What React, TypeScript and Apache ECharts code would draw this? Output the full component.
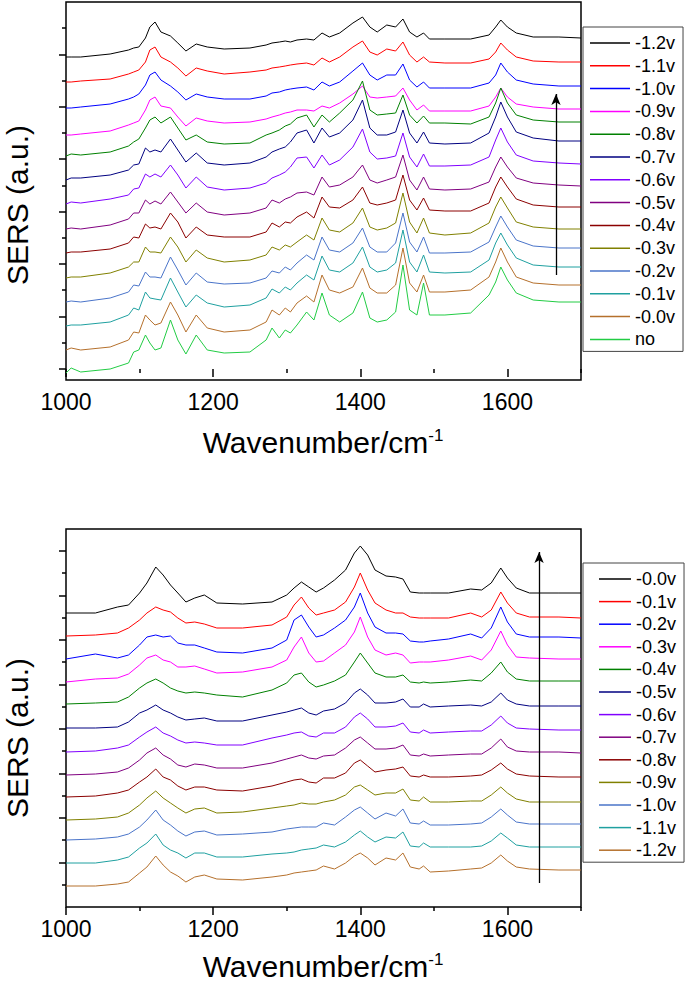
import React, { useEffect, useRef } from 'react';
import * as echarts from 'echarts';

const FONT = "'Liberation Sans', Arial, Helvetica, sans-serif";

// Line colours, in legend order (top of each stack first)
const COLORS = ['#000000', '#ff0000', '#0000ff', '#ff00ff', '#008000', '#000080', '#8000ff', '#800080', '#8b0000', '#808000', '#4a74c9', '#1fa0a0', '#b5702c', '#22cc44'];

// ---------- top panel ----------
const TOP_NAMES = ['-1.2v', '-1.1v', '-1.0v', '-0.9v', '-0.8v', '-0.7v', '-0.6v', '-0.5v', '-0.4v', '-0.3v', '-0.2v', '-0.1v', '-0.0v', 'no'];
const TOP_W = [1000, 1007, 1020, 1060, 1085, 1092, 1099, 1108, 1114, 1121, 1129, 1142, 1152, 1163, 1177, 1192, 1215, 1250, 1272, 1280, 1290, 1298, 1305, 1314, 1327, 1337, 1348, 1358, 1372, 1390, 1403, 1413, 1423, 1436, 1448, 1458, 1467, 1477, 1486, 1494, 1515, 1550, 1575, 1584, 1591, 1600, 1612, 1635, 1670, 1700];
const top_m12 = [312, 312, 312, 315, 319, 321, 322, 331, 342, 347, 337, 333, 326, 318, 325, 322, 320, 321, 324, 326, 327, 328, 327, 329, 330, 329, 336, 332, 336, 346, 352, 342, 337, 344, 342, 350, 337, 332, 336, 330, 330, 330, 334, 342, 349, 342, 336, 332, 332, 331];
const top_m11 = [287, 287, 288, 290, 295, 297, 299, 307, 319, 322, 312, 307, 301, 293, 301, 298, 295, 297, 299, 301, 302, 303, 304, 305, 306, 304, 311, 307, 312, 322, 328, 317, 314, 320, 318, 327, 314, 307, 312, 307, 306, 306, 310, 317, 326, 319, 312, 308, 307, 307];
const top_m10 = [261, 261, 262, 265, 270, 272, 275, 284, 294, 297, 289, 283, 277, 269, 275, 272, 270, 270, 273, 276, 277, 279, 280, 281, 282, 279, 287, 283, 287, 298, 306, 294, 289, 294, 294, 305, 289, 282, 287, 281, 281, 281, 286, 294, 306, 297, 289, 285, 283, 283];
const top_m09 = [234, 234, 235, 238, 244, 246, 248, 259, 269, 272, 263, 261, 252, 243, 251, 248, 246, 247, 250, 252, 254, 256, 257, 259, 259, 258, 263, 261, 266, 275, 283, 272, 271, 272, 273, 281, 269, 259, 264, 258, 258, 258, 263, 272, 281, 272, 265, 262, 260, 260];
const top_m08 = [213, 215, 214, 217, 223, 227, 230, 241, 249, 252, 246, 252, 241, 229, 234, 227, 225, 226, 234, 236, 239, 243, 245, 251, 254, 242, 254, 247, 256, 269, 288, 259, 254, 255, 256, 274, 254, 246, 253, 246, 246, 245, 252, 266, 281, 266, 254, 249, 247, 247];
const top_m07 = [189, 191, 191, 194, 199, 204, 205, 221, 217, 219, 217, 230, 219, 207, 216, 206, 204, 206, 212, 217, 220, 222, 227, 236, 239, 226, 241, 232, 236, 249, 269, 241, 234, 234, 237, 259, 236, 226, 237, 226, 225, 226, 236, 252, 267, 252, 237, 231, 228, 228];
const top_m06 = [165, 167, 166, 170, 174, 180, 181, 195, 192, 195, 192, 204, 194, 181, 192, 182, 179, 181, 186, 191, 194, 197, 202, 211, 212, 201, 214, 204, 209, 222, 240, 217, 210, 211, 213, 236, 212, 202, 215, 203, 203, 204, 212, 229, 241, 227, 214, 208, 206, 205];
const top_m05 = [140, 141, 140, 144, 150, 156, 156, 169, 165, 168, 165, 177, 167, 156, 166, 157, 154, 156, 161, 169, 166, 170, 172, 176, 177, 174, 192, 182, 184, 192, 204, 189, 186, 189, 192, 214, 189, 179, 192, 180, 179, 180, 187, 202, 212, 202, 191, 186, 184, 183];
const top_m04 = [116, 117, 117, 120, 126, 132, 131, 145, 141, 142, 140, 156, 147, 131, 142, 134, 132, 132, 137, 146, 142, 147, 146, 152, 157, 151, 172, 162, 161, 169, 182, 166, 164, 166, 169, 194, 169, 159, 171, 159, 158, 158, 166, 182, 192, 182, 170, 164, 162, 162];
const top_m03 = [91, 92, 92, 96, 102, 107, 107, 122, 117, 117, 116, 132, 122, 107, 119, 111, 107, 109, 114, 122, 119, 124, 122, 127, 134, 129, 151, 139, 137, 146, 161, 142, 139, 141, 146, 176, 147, 136, 151, 136, 134, 136, 146, 162, 172, 161, 147, 142, 140, 140];
const top_m02 = [67, 68, 67, 71, 77, 84, 83, 97, 92, 92, 91, 112, 99, 84, 96, 87, 85, 86, 91, 98, 96, 102, 99, 106, 114, 109, 132, 119, 117, 126, 141, 122, 117, 117, 126, 156, 127, 117, 132, 116, 116, 117, 127, 142, 153, 142, 129, 123, 121, 121];
const top_m01 = [43, 44, 44, 47, 54, 61, 59, 77, 71, 70, 69, 91, 77, 62, 74, 66, 62, 64, 71, 80, 76, 82, 79, 86, 94, 89, 113, 99, 97, 106, 122, 102, 97, 99, 106, 139, 107, 97, 114, 97, 96, 97, 109, 126, 136, 124, 111, 104, 102, 102];
const top_m00 = [19, 21, 19, 22, 29, 37, 36, 54, 49, 44, 46, 67, 54, 37, 54, 41, 37, 39, 47, 59, 54, 61, 57, 66, 73, 67, 94, 79, 76, 82, 101, 81, 76, 76, 84, 121, 86, 77, 94, 77, 77, 79, 92, 107, 121, 107, 92, 86, 84, 84];
const top_no = [-4, 1, -3, 0, 6, 17, 19, 34, 26, 19, 21, 49, 29, 15, 34, 19, 16, 17, 29, 41, 31, 39, 36, 44, 57, 49, 76, 54, 47, 56, 77, 51, 47, 49, 57, 104, 59, 54, 86, 54, 54, 56, 74, 87, 102, 89, 76, 69, 67, 67];
const TOP_VALUES = [top_m12, top_m11, top_m10, top_m09, top_m08, top_m07, top_m06, top_m05, top_m04, top_m03, top_m02, top_m01, top_m00, top_no];
const TOP_Y_MIN = -11;
const TOP_Y_MAX = 367;
const TOP_Y_MAJOR = [0, 52, 105, 157, 210, 262, 314];
const TOP_Y_MINOR = [26, 79, 131, 183, 236, 288, 341];
const TOP_ARROW = [[1666, 94], [1666, 275]];

// ---------- bottom panel ----------
const BOT_NAMES = ['-0.0v', '-0.1v', '-0.2v', '-0.3v', '-0.4v', '-0.5v', '-0.6v', '-0.7v', '-0.8v', '-0.9v', '-1.0v', '-1.1v', '-1.2v'];
const BOT_W = [1000, 1040, 1070, 1085, 1100, 1110, 1122, 1132, 1142, 1152, 1163, 1175, 1188, 1205, 1240, 1280, 1300, 1310, 1320, 1330, 1340, 1350, 1365, 1380, 1392, 1400, 1410, 1420, 1435, 1448, 1458, 1468, 1480, 1486, 1495, 1520, 1550, 1565, 1578, 1591, 1600, 1612, 1630, 1670, 1700];
const bot_m00 = [294, 294, 300, 302, 314, 324, 340, 332, 322, 314, 305, 309, 312, 304, 303, 305, 312, 319, 325, 320, 315, 319, 327, 337, 354, 361, 352, 337, 331, 330, 328, 315, 314, 314, 314, 314, 318, 317, 324, 339, 329, 319, 314, 314, 314];
const bot_m01 = [271, 272, 274, 279, 287, 294, 300, 297, 295, 289, 284, 285, 283, 279, 279, 282, 290, 302, 310, 299, 292, 294, 297, 305, 320, 334, 317, 304, 297, 294, 294, 290, 289, 289, 289, 289, 294, 290, 297, 315, 304, 294, 290, 290, 289];
const bot_m02 = [248, 253, 249, 252, 262, 270, 272, 270, 271, 264, 262, 262, 259, 255, 254, 259, 267, 287, 292, 280, 270, 272, 279, 287, 300, 314, 294, 280, 274, 274, 273, 266, 265, 265, 266, 268, 273, 269, 279, 300, 285, 273, 270, 270, 269];
const bot_m03 = [225, 228, 229, 233, 242, 249, 252, 247, 245, 240, 240, 241, 238, 234, 235, 240, 247, 260, 270, 254, 245, 246, 254, 262, 275, 290, 270, 257, 252, 254, 252, 244, 245, 245, 245, 247, 251, 247, 257, 276, 262, 250, 249, 248, 248];
const bot_m04 = [203, 204, 205, 210, 219, 224, 228, 224, 219, 216, 214, 215, 214, 212, 210, 217, 224, 232, 234, 225, 220, 222, 226, 232, 245, 254, 244, 234, 230, 230, 232, 225, 224, 225, 224, 225, 227, 226, 234, 245, 235, 228, 226, 226, 226];
const bot_m05 = [179, 179, 180, 185, 194, 197, 202, 197, 194, 190, 187, 188, 189, 186, 186, 192, 195, 197, 199, 194, 192, 196, 198, 204, 214, 218, 212, 204, 204, 205, 208, 200, 200, 203, 200, 201, 202, 201, 205, 214, 207, 203, 201, 201, 201];
const bot_m06 = [155, 156, 159, 162, 170, 175, 180, 174, 171, 167, 164, 165, 164, 162, 162, 169, 172, 174, 175, 171, 170, 174, 174, 180, 190, 194, 188, 180, 180, 181, 184, 175, 174, 177, 174, 175, 176, 176, 182, 191, 184, 179, 178, 177, 177];
const bot_m07 = [132, 133, 135, 139, 147, 154, 159, 152, 148, 142, 140, 143, 142, 139, 139, 144, 148, 150, 152, 149, 148, 151, 152, 159, 167, 170, 164, 158, 158, 159, 162, 152, 151, 153, 151, 152, 153, 153, 159, 168, 160, 156, 155, 155, 154];
const bot_m08 = [110, 111, 114, 117, 125, 130, 138, 130, 127, 121, 117, 120, 120, 117, 116, 121, 125, 127, 128, 125, 124, 129, 129, 134, 144, 147, 141, 135, 137, 138, 140, 131, 130, 132, 130, 130, 131, 132, 137, 144, 138, 133, 131, 130, 130];
const bot_m09 = [87, 88, 90, 94, 102, 109, 116, 109, 104, 99, 94, 98, 99, 94, 95, 99, 101, 102, 104, 103, 103, 105, 107, 112, 120, 122, 117, 112, 114, 114, 118, 107, 106, 110, 105, 105, 106, 106, 112, 120, 114, 108, 105, 105, 105];
const bot_m10 = [67, 68, 70, 73, 80, 87, 97, 87, 82, 76, 71, 75, 76, 72, 73, 75, 78, 79, 80, 80, 80, 84, 82, 90, 97, 100, 94, 88, 94, 91, 98, 84, 83, 86, 82, 82, 83, 84, 90, 98, 92, 85, 83, 83, 83];
const bot_m11 = [44, 44, 47, 50, 59, 64, 73, 62, 57, 54, 49, 54, 54, 50, 50, 53, 54, 55, 57, 58, 59, 62, 60, 65, 72, 76, 70, 65, 70, 69, 75, 61, 60, 64, 60, 60, 60, 61, 66, 74, 69, 62, 60, 60, 60];
const bot_m12 = [21, 21, 23, 25, 34, 40, 51, 42, 35, 31, 25, 30, 32, 28, 27, 30, 32, 34, 35, 36, 37, 41, 38, 44, 51, 54, 49, 42, 49, 47, 54, 40, 38, 41, 35, 36, 38, 39, 44, 52, 46, 40, 38, 37, 37];
const BOT_VALUES = [bot_m00, bot_m01, bot_m02, bot_m03, bot_m04, bot_m05, bot_m06, bot_m07, bot_m08, bot_m09, bot_m10, bot_m11, bot_m12];
const BOT_Y_MIN = 0;
const BOT_Y_MAX = 378;
const BOT_Y_MAJOR = [44, 89, 133, 178, 222, 267, 311, 356];
const BOT_Y_MINOR = [22, 67, 111, 156, 200, 245, 289, 334];
const BOT_ARROW = [[1643, 24], [1643, 355]];

// ---------- shared x axis ----------
const X_MIN = 1000;
const X_MAX = 1700;
const X_LABELS = [1000, 1200, 1400, 1600];
const X_MINOR = [1100, 1300, 1500, 1700];
const BOT_PREFIX = 'B|';

function xAxesFor(gridIndex: number) {
  return [
    {
      type: 'value', gridIndex, min: X_MIN, max: X_MAX, position: 'bottom',
      axisLine: { show: false }, splitLine: { show: false },
      axisTick: { show: true, customValues: X_MINOR, length: 4, lineStyle: { color: '#000', width: 1.5 } },
      axisLabel: {
        show: true, customValues: X_LABELS, fontSize: 23, color: '#000', fontFamily: FONT, margin: 10,
        formatter: (v: number) => String(v),
      },
    },
    {
      type: 'value', gridIndex, min: X_MIN, max: X_MAX, position: 'bottom',
      axisLine: { show: false }, splitLine: { show: false },
      axisTick: { show: true, customValues: X_LABELS, length: 8, lineStyle: { color: '#000', width: 1.5 } },
      axisLabel: { show: false },
    },
  ];
}

function yAxesFor(gridIndex: number, min: number, max: number, major: number[], minor: number[]) {
  return [
    {
      type: 'value', gridIndex, min, max, position: 'left',
      axisLine: { show: false }, splitLine: { show: false }, axisLabel: { show: false },
      axisTick: { show: true, customValues: major, length: 7, lineStyle: { color: '#000', width: 1.5 } },
    },
    {
      type: 'value', gridIndex, min, max, position: 'left',
      axisLine: { show: false }, splitLine: { show: false }, axisLabel: { show: false },
      axisTick: { show: true, customValues: minor, length: 4, lineStyle: { color: '#000', width: 1.5 } },
    },
  ];
}

function makeSeries(names: string[], values: number[][], xs: number[], axisIndex: number, prefix: string, arrow: number[][]) {
  return names.map((n, i) => ({
    type: 'line',
    name: prefix + n,
    xAxisIndex: axisIndex,
    yAxisIndex: axisIndex,
    data: xs.map((x, j) => [x, values[i][j]]),
    symbol: 'none',
    showSymbol: false,
    silent: true,
    lineStyle: { color: COLORS[i], width: 1 },
    itemStyle: { color: COLORS[i] },
    emphasis: { disabled: true },
    z: 3,
    markLine: i === 0 ? {
      silent: true,
      symbol: ['none', 'arrow'],
      symbolSize: [7, 11],
      label: { show: false },
      lineStyle: { color: '#000', width: 1.3, type: 'solid' },
      emphasis: { disabled: true },
      data: [[{ coord: arrow[0] }, { coord: arrow[1] }]],
    } : undefined,
  }));
}

function legendFor(top: number, padLeft: number, itemWidth: number, gap: number, data: string[], prefix: string) {
  return {
    orient: 'vertical',
    left: 583,
    top,
    padding: [6, 8, 2, padLeft],
    icon: 'rect',
    itemWidth,
    itemHeight: 1.5,
    itemGap: gap,
    borderColor: '#444',
    borderWidth: 1,
    selectedMode: false,
    data: data.map((d) => prefix + d),
    formatter: (name: string) => name.replace(BOT_PREFIX, ''),
    textStyle: { fontSize: 18, color: '#000', fontFamily: FONT, lineHeight: 20 },
  };
}

export default function App() {
  const ref = useRef<HTMLDivElement>(null);
  useEffect(() => {
    if (!ref.current) return;
    const chart = echarts.init(ref.current, undefined, { renderer: 'svg' });
    const option = {
      animation: false,
      backgroundColor: '#ffffff',
      grid: [
        { left: 66, top: 2, width: 515, height: 378, show: true, borderColor: '#000', borderWidth: 1.5, backgroundColor: 'transparent' },
        { left: 66, top: 529, width: 515, height: 378, show: true, borderColor: '#000', borderWidth: 1.5, backgroundColor: 'transparent' },
      ],
      xAxis: [...xAxesFor(0), ...xAxesFor(1)],
      yAxis: [
        ...yAxesFor(0, TOP_Y_MIN, TOP_Y_MAX, TOP_Y_MAJOR, TOP_Y_MINOR),
        ...yAxesFor(1, BOT_Y_MIN, BOT_Y_MAX, BOT_Y_MAJOR, BOT_Y_MINOR),
      ],
      legend: [
        legendFor(27, 7, 40, 2.8, TOP_NAMES, ''),
        legendFor(563, 16, 32, 2.6, BOT_NAMES, BOT_PREFIX),
      ],
      series: [
        ...makeSeries(TOP_NAMES, TOP_VALUES, TOP_W, 0, '', TOP_ARROW),
        ...makeSeries(BOT_NAMES, BOT_VALUES, BOT_W, 2, BOT_PREFIX, BOT_ARROW),
      ],
      graphic: [
        {
          type: 'text', x: 17.5, y: 205, rotation: Math.PI / 2,
          style: { text: 'SERS (a.u.)', fontSize: 30, fontFamily: FONT, fill: '#000', align: 'center', verticalAlign: 'middle' },
        },
        {
          type: 'text', x: 17.5, y: 738, rotation: Math.PI / 2,
          style: { text: 'SERS (a.u.)', fontSize: 30, fontFamily: FONT, fill: '#000', align: 'center', verticalAlign: 'middle' },
        },
        {
          type: 'text', x: 323, y: 442,
          style: {
            text: 'Wavenumber/cm{sup|-1}', fontSize: 30, fontFamily: FONT, fill: '#000', align: 'center', verticalAlign: 'middle',
            rich: { sup: { fontSize: 17, fontFamily: FONT, fill: '#000', verticalAlign: 'top' } },
          },
        },
        {
          type: 'text', x: 323, y: 966,
          style: {
            text: 'Wavenumber/cm{sup|-1}', fontSize: 30, fontFamily: FONT, fill: '#000', align: 'center', verticalAlign: 'middle',
            rich: { sup: { fontSize: 17, fontFamily: FONT, fill: '#000', verticalAlign: 'top' } },
          },
        },
      ],
    };
    chart.setOption(option as any);
    return () => chart.dispose();
  }, []);
  return (
    <div
      ref={ref}
      style={{ position: 'absolute', left: 0, top: 0, width: 685, height: 982, background: '#fff' }}
    />
  );
}
